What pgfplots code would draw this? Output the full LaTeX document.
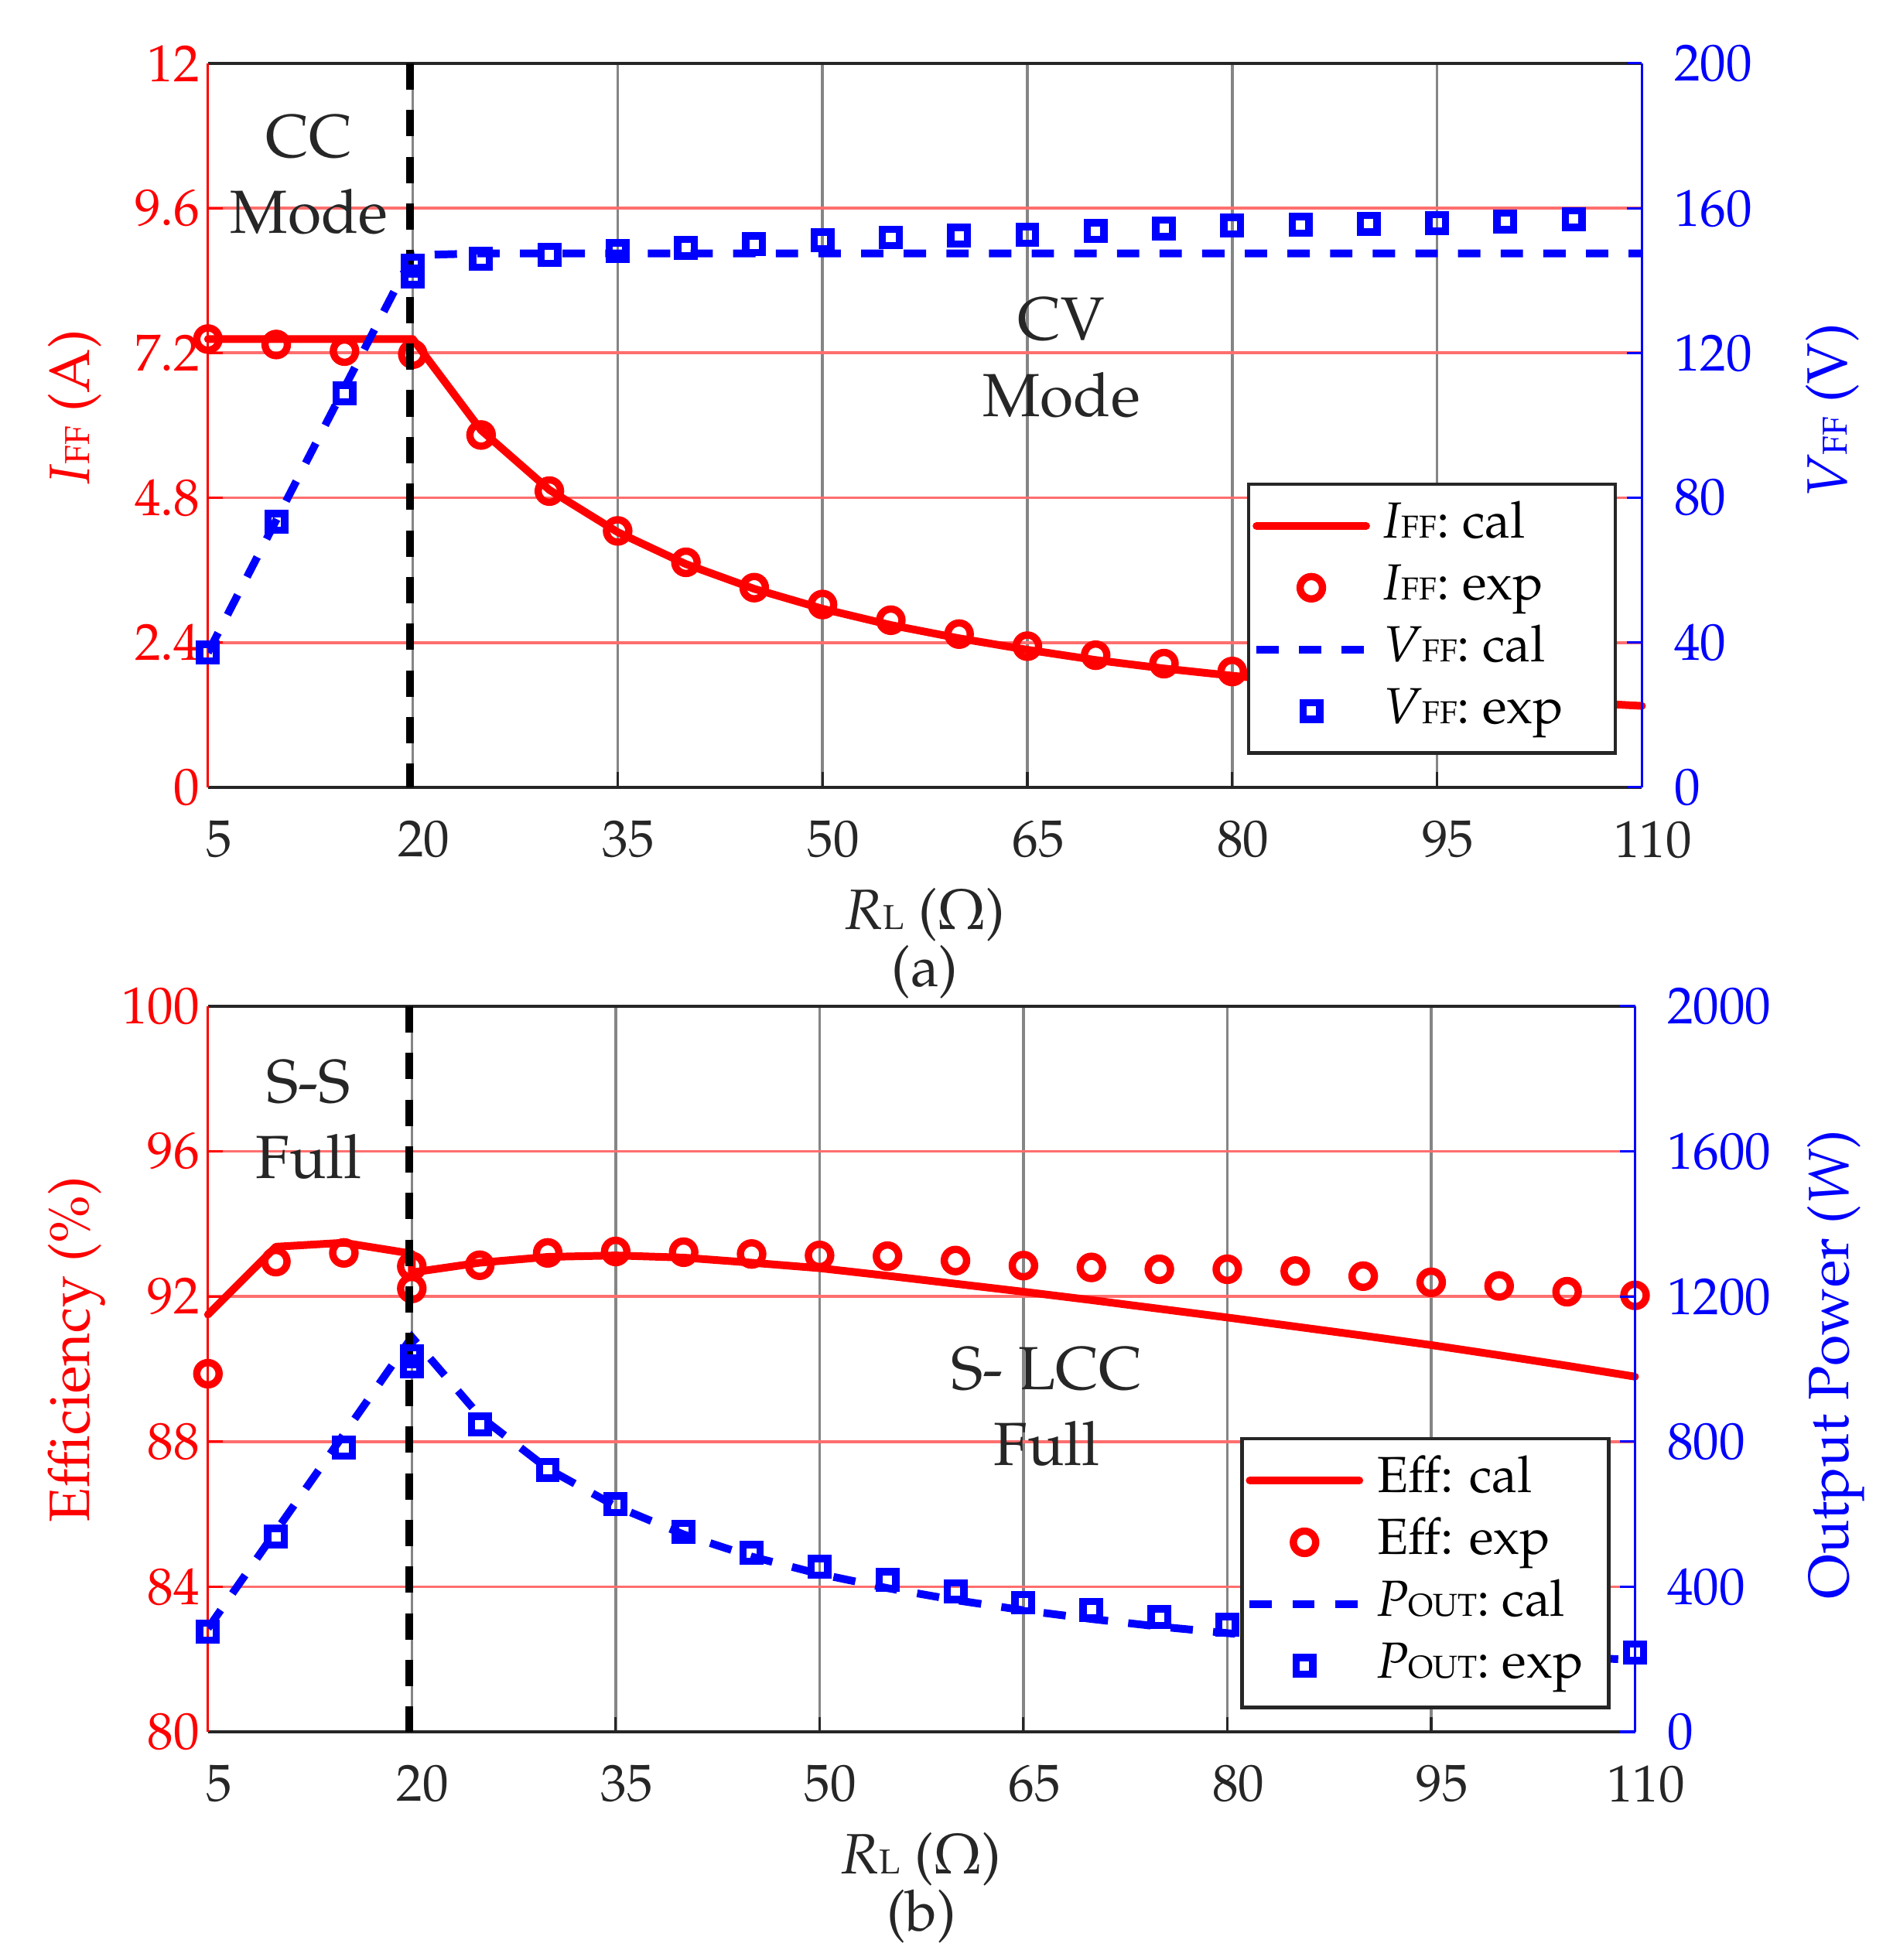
\documentclass[border=0pt]{standalone}
\usepackage[T1]{fontenc}
\usepackage{mathpazo}
\usepackage{pgfplots}
\pgfplotsset{compat=1.18}
\definecolor{dgray}{HTML}{262626}
\definecolor{gridred}{HTML}{FF6E6E}
\definecolor{gridgray}{HTML}{858585}
\newcommand\sub[1]{{\fontsize{7.8}{9}\selectfont #1}}
\newcommand\subl[1]{{\fontsize{8.5}{10}\selectfont #1}}
\newcommand\lab{\fontsize{14}{16}\selectfont}
\newcommand\ann{\fontsize{15}{18.7}\selectfont}
\newcommand\leg{\fontsize{12.5}{15}\selectfont}
\pgfplotsset{
 leftax/.style={scale only axis, clip=false, xmin=5, xmax=110, xtick={5,20,35,50,65,80,95,110},
   axis x line*=box, axis y line*=left, xtick pos=left, ytick pos=left, tick align=inside,
   major tick length=3.7pt,
   x axis line style={dgray, line width=0.65pt},
   y axis line style={red, line width=0.6pt},
   x tick style={dgray, line width=0.6pt},
   y tick style={red, line width=0.6pt},
   xticklabel style={text=dgray, yshift=-4.8pt, xshift=2.7pt},
   yticklabel style={text=red, xshift=1.5pt},
   xmajorgrids, ymajorgrids,
   x grid style={gridgray, line width=0.65pt},
   y grid style={gridred, line width=0.7pt},
   tick label style={font=\fontsize{12.8}{15}\selectfont},
   label style={font=\lab},
   xlabel style={at={(axis description cs:0.5,-0.176)}, anchor=center, text=dgray},
   ylabel style={anchor=center, text=red},
 },
 rightax/.style={scale only axis, xmin=5, xmax=110, axis x line=none, axis y line*=right,
   ytick pos=right, tick align=inside, major tick length=3.7pt,
   y axis line style={blue, line width=0.6pt},
   y tick style={blue, line width=0.6pt},
   yticklabel style={text=blue, xshift=4.4pt},
   tick label style={font=\fontsize{12.8}{15}\selectfont},
   label style={font=\lab},
   ylabel style={anchor=center, text=blue},
   scaled y ticks=false, /pgf/number format/1000 sep={},
   legend cell align=left,
   legend style={draw=dgray, line width=0.9pt, fill=white, font=\leg, anchor=south east,
     inner xsep=1pt, inner ysep=2.8pt, row sep=0.2pt, column sep=2.4pt,
     nodes={inner sep=1pt, text height=9.5pt, text depth=3.5pt}},
 },
 lline/.style={legend image code/.code={\draw[##1] (0pt,0pt) -- (27pt,0pt);}},
 lmark/.style={legend image code/.code={\path (0pt,0pt) (27pt,0pt); \path[##1, draw=none] plot coordinates {(13.5pt,0pt)};}},
 calI/.style={red, line width=1.9pt, line cap=round, line join=round, lline},
 expI/.style={red, only marks, mark=o, mark size=2.75pt, mark options={line width=1.8pt, draw=red}, lmark},
 calV/.style={blue, line width=1.9pt, dash pattern=on 5.5pt off 5pt, lline},
 expV/.style={blue, only marks, mark=square, mark size=2.05pt, mark options={line width=1.8pt, solid, draw=blue}, lmark},
 vline/.style={black, line width=1.8pt, dash pattern=on 6.5pt off 5pt, forget plot},
}
\begin{document}
\begin{tikzpicture}[font=\leg]
\useasboundingbox (-51.2pt,-288.8pt) rectangle (416.6pt,193.9pt);
% ---------------- panel (a)
\begin{axis}[leftax, at={(0pt,0pt)}, anchor=south west, width=353.1pt, height=178.3pt,
  ymin=0, ymax=12, ytick={0,2.4,4.8,7.2,9.6,12}, yticklabels={0,2.4,4.8,7.2,9.6,12},
  xlabel={\textit{R}\subl{L} ($\Omega$)}, ylabel={\textit{I}\subl{FF} (A)},
  ylabel style={at={(axis description cs:-0.093,0.525)}}]
\addplot[calI, forget plot] coordinates {(5,7.43) (10,7.43) (15,7.43) (20,7.43) (25,5.92) (30,4.93) (35,4.23) (40,3.70) (45,3.29) (50,2.96) (55,2.69) (60,2.47) (65,2.28) (70,2.11) (75,1.97) (80,1.85) (85,1.74) (90,1.64) (95,1.56) (100,1.48) (105,1.41) (110,1.35)};
\addplot[expI, forget plot] coordinates {(5,7.43) (10,7.34) (15,7.23) (20,7.18) (25,5.84) (30,4.91) (35,4.25) (40,3.73) (45,3.31) (50,3.03) (55,2.77) (60,2.54) (65,2.34) (70,2.19) (75,2.05) (80,1.92)};
\node[text=dgray, font=\ann, align=center] at (axis cs:12.4,10.15) {CC\\Mode};
\node[text=dgray, font=\ann, align=center] at (axis cs:67.5,7.12) {CV\\Mode};
\node[text=dgray, font=\lab] at (axis description cs:0.5,-0.255) {(a)};
\end{axis}
\begin{axis}[rightax, at={(0pt,0pt)}, anchor=south west, width=353.1pt, height=178.3pt,
  ymin=0, ymax=200, ytick={0,40,80,120,160,200},
  ylabel={\textit{V}\subl{FF} (V)}, ylabel style={at={(axis description cs:1.133,0.52)}},
  legend style={at={(0.9827,0.0449)}}]
\addlegendimage{calI}\addlegendentry{\makebox[55pt][l]{\textit{I}\sub{FF}: cal}}
\addlegendimage{expI}\addlegendentry{\makebox[55pt][l]{\textit{I}\sub{FF}: exp}}
\addplot[calV] coordinates {(5,37.2) (10,73.8) (15,110.4) (20,147) (25,147.5) (110,147.5)};
\addlegendentry{\makebox[55pt][l]{\textit{V}\sub{FF}: cal}}
\addplot[expV] coordinates {(5,37.2) (10,73.3) (15,108.8) (20,144.2) (20,141.2) (25,146) (30,147.1) (35,148.1) (40,149.1) (45,150) (50,151.1) (55,151.9) (60,152.4) (65,152.6) (70,153.7) (75,154.4) (80,155.2) (85,155.4) (90,155.7) (95,155.9) (100,156.3) (105,157)};
\addlegendentry{\makebox[55pt][l]{\textit{V}\sub{FF}: exp}}
\addplot[vline] coordinates {(19.8,200) (19.8,0)};
\end{axis}
% ---------------- panel (b)
\begin{axis}[leftax, at={(0pt,-232.6pt)}, anchor=south west, width=351.4pt, height=178.7pt,
  ymin=80, ymax=100, ytick={80,84,88,92,96,100},
  xlabel={\textit{R}\subl{L} ($\Omega$)}, ylabel={Efficiency (\%)},
  xlabel style={at={(axis description cs:0.5,-0.1757)}},
  ylabel style={at={(axis description cs:-0.092,0.527)}}]
\addplot[calI, forget plot] coordinates {(5,91.5) (10,93.37) (15,93.48) (20,93.18) (20,92.66) (25,92.93) (30,93.09) (35,93.13) (40,93.07) (45,92.93) (50,92.78) (55,92.57) (60,92.35) (65,92.13) (70,91.9) (75,91.66) (80,91.42) (85,91.17) (90,90.92) (95,90.66) (100,90.38) (105,90.09) (110,89.79)};
\addplot[expI, forget plot] coordinates {(5,89.87) (10,92.96) (15,93.2) (20,92.83) (20,92.22) (25,92.86) (30,93.2) (35,93.24) (40,93.22) (45,93.17) (50,93.13) (55,93.11) (60,92.99) (65,92.85) (70,92.8) (75,92.75) (80,92.75) (85,92.7) (90,92.56) (95,92.39) (100,92.29) (105,92.13) (110,92.03)};
\node[text=dgray, font=\ann, align=center] at (axis cs:12.4,96.88) {S-S\\Full};
\node[text=dgray, font=\ann, align=center] at (axis cs:66.7,88.97) {S- LCC\\Full};
\node[text=dgray, font=\lab] at (axis description cs:0.5,-0.2546) {(b)};
\end{axis}
\begin{axis}[rightax, at={(0pt,-232.6pt)}, anchor=south west, width=351.4pt, height=178.7pt,
  ymin=0, ymax=2000, ytick={0,400,800,1200,1600,2000},
  ylabel={Output Power (\textit{W})}, ylabel style={at={(axis description cs:1.141,0.506)}},
  legend style={at={(0.9827,0.0309)}}]
\addlegendimage{calI}\addlegendentry{\makebox[55pt][l]{Eff: cal}}
\addlegendimage{expI}\addlegendentry{\makebox[55pt][l]{Eff: exp}}
\addplot[calV] coordinates {(5,285) (10,553) (15,820) (20,1088) (25,870) (30,725) (35,622) (40,544) (45,483) (50,435) (55,396) (60,363) (65,335) (70,311) (75,290) (80,272) (85,256) (90,242) (95,229) (100,218) (105,207) (110,198)};
\addlegendentry{\makebox[55pt][l]{\textit{P}\sub{OUT}: cal}}
\addplot[expV] coordinates {(5,276) (10,538) (15,783) (20,1035) (20,1008) (25,847) (30,722) (35,627) (40,552) (45,493) (50,455) (55,418) (60,387) (65,356) (70,336) (75,316) (80,295) (110,219)};
\addlegendentry{\makebox[55pt][l]{\textit{P}\sub{OUT}: exp}}
\addplot[vline] coordinates {(19.8,2000) (19.8,0)};
\end{axis}
\end{tikzpicture}
\end{document}
